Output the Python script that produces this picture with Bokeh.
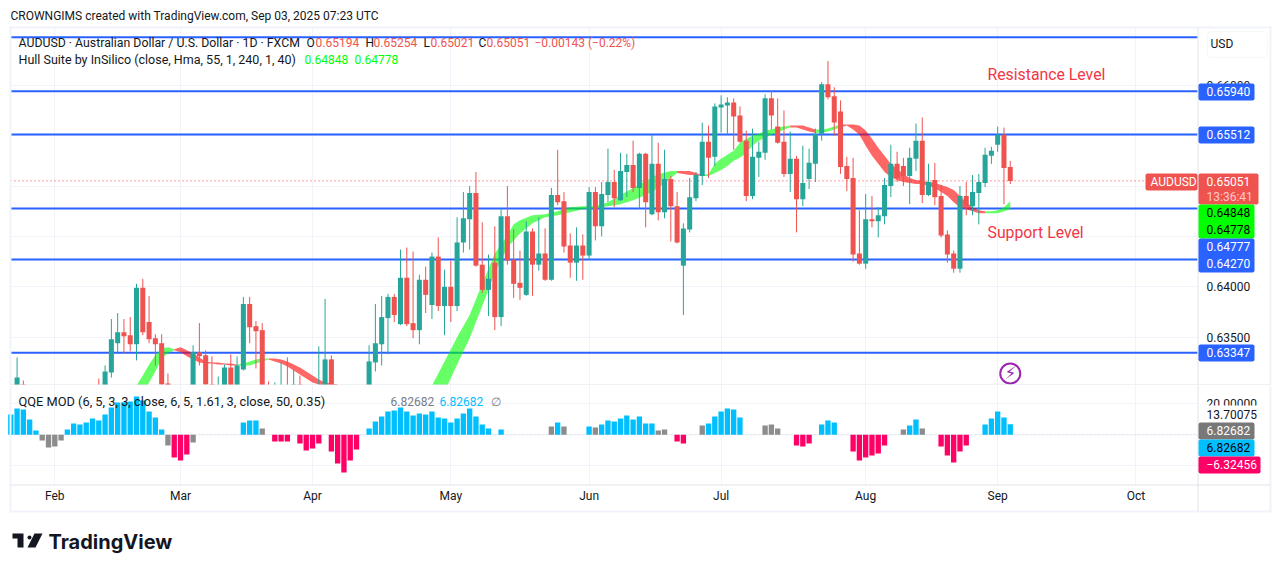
from bokeh.embed import file_html
from bokeh.layouts import column
from bokeh.models import (BoxAnnotation, ColumnDataSource, FixedTicker, Label, LinearAxis,
                          NumeralTickFormatter, PolyAnnotation, Range1d)
from bokeh.plotting import figure
from bokeh.resources import INLINE

# ---- candles (prices in units of 0.0001) ----
bar_index = [-6, -5, 7, 8, 9, 10, 11, 12, 13, 14, 15, 16, 17, 18, 22, 23, 24, 25, 26, 27, 28, 29,
             30, 31, 32, 33, 34, 35, 36, 37, 38, 39, 42, 43, 44, 50, 51, 52, 53, 54, 55, 56, 57, 58, 59,
             60, 61, 62, 63, 64, 65, 66, 67, 68, 69, 70, 71, 72, 73, 74, 75, 76, 77, 78, 79,
             80, 81, 82, 83, 84, 85, 86, 87, 88, 89, 90, 91, 92, 93, 94, 95, 96, 97, 98, 99,
             100, 101, 102, 103, 104, 105, 106, 107, 108, 109, 110, 111, 112, 113, 114, 115, 116, 117, 118, 119,
             120, 121, 122, 123, 124, 125, 126, 127, 128, 129, 130, 131, 132, 133, 134, 135, 136, 137, 138, 139,
             140, 141, 142, 143, 144, 145, 146, 147, 148, 149, 150, 151, 152]
opens = [6290, 6303, 6295, 6290, 6315, 6344, 6355, 6352, 6343, 6399, 6365, 6349, 6344, 6304, 6290, 6335, 6332, 6303, 6290, 6290, 6320, 6295,
         6318, 6383, 6361, 6357, 6298, 6290, 6290, 6298, 6290, 6303, 6285, 6285, 6328, 6285, 6325, 6343, 6369, 6390, 6363, 6409, 6364, 6357, 6407,
         6382, 6430, 6381, 6400, 6381, 6444, 6467, 6493, 6422, 6397, 6424, 6370, 6470, 6427, 6404, 6392, 6455, 6422, 6433, 6407,
         6491, 6485, 6441, 6424, 6441, 6431, 6494, 6460, 6491, 6504, 6486, 6514, 6521, 6498, 6532, 6472, 6522, 6474, 6507, 6480,
         6421, 6457, 6488, 6510, 6544, 6529, 6578, 6580, 6583, 6570, 6545, 6490, 6528, 6533, 6587, 6559, 6544, 6512, 6527, 6487,
         6507, 6522, 6552, 6601, 6589, 6574, 6520, 6508, 6433, 6423, 6467, 6465, 6470, 6500, 6522, 6520, 6510, 6527, 6545, 6491,
         6506, 6490, 6452, 6433, 6418, 6490, 6480, 6493, 6503, 6530, 6541, 6551, 6519]
highs = [6330, 6307, 6309, 6322, 6368, 6374, 6368, 6370, 6403, 6408, 6391, 6353, 6353, 6314, 6342, 6364, 6337, 6331, 6311, 6323, 6333, 6331,
         6390, 6390, 6366, 6364, 6306, 6305, 6325, 6330, 6318, 6312, 6341, 6388, 6332, 6342, 6383, 6391, 6393, 6393, 6437, 6439, 6435, 6412, 6420,
         6434, 6449, 6417, 6426, 6469, 6494, 6500, 6514, 6464, 6432, 6460, 6478, 6500, 6457, 6436, 6465, 6458, 6469, 6458, 6498,
         6536, 6494, 6453, 6459, 6452, 6499, 6499, 6504, 6537, 6516, 6533, 6532, 6545, 6533, 6533, 6551, 6543, 6536, 6510, 6494,
         6463, 6508, 6514, 6563, 6560, 6582, 6590, 6588, 6587, 6579, 6555, 6557, 6544, 6591, 6595, 6587, 6575, 6554, 6530, 6540,
         6537, 6557, 6603, 6624, 6598, 6585, 6529, 6528, 6476, 6492, 6490, 6479, 6508, 6541, 6534, 6528, 6538, 6562, 6568, 6522,
         6523, 6501, 6456, 6436, 6500, 6504, 6511, 6512, 6538, 6539, 6559, 6558, 6525]
lows = [6285, 6280, 6280, 6285, 6310, 6335, 6334, 6336, 6327, 6352, 6344, 6322, 6301, 6290, 6285, 6322, 6302, 6285, 6285, 6285, 6290, 6290,
        6317, 6344, 6319, 6290, 6285, 6285, 6285, 6285, 6285, 6290, 6280, 6280, 6280, 6280, 6316, 6322, 6333, 6365, 6362, 6361, 6349, 6343, 6374,
        6368, 6376, 6352, 6365, 6376, 6434, 6437, 6420, 6394, 6371, 6357, 6361, 6422, 6389, 6387, 6391, 6391, 6416, 6406, 6406,
        6481, 6434, 6409, 6406, 6407, 6427, 6446, 6450, 6484, 6479, 6485, 6489, 6494, 6477, 6459, 6471, 6466, 6468, 6445, 6443,
        6372, 6454, 6485, 6501, 6508, 6520, 6553, 6551, 6536, 6543, 6485, 6487, 6509, 6526, 6556, 6542, 6509, 6494, 6454, 6480,
        6497, 6504, 6545, 6586, 6550, 6512, 6495, 6425, 6422, 6418, 6459, 6449, 6462, 6489, 6504, 6500, 6482, 6515, 6483, 6490,
        6481, 6449, 6424, 6414, 6414, 6471, 6471, 6462, 6499, 6522, 6534, 6482, 6502]
closes = [6310, 6285, 6290, 6316, 6348, 6355, 6351, 6343, 6399, 6355, 6348, 6343, 6303, 6295, 6335, 6331, 6303, 6290, 6298, 6320, 6295, 6322,
          6383, 6360, 6356, 6295, 6290, 6298, 6298, 6292, 6303, 6295, 6298, 6328, 6285, 6326, 6344, 6370, 6390, 6372, 6409, 6363, 6357, 6407, 6392,
          6430, 6381, 6400, 6381, 6444, 6468, 6493, 6421, 6397, 6408, 6370, 6470, 6426, 6403, 6399, 6455, 6422, 6433, 6407, 6491,
          6484, 6440, 6424, 6441, 6431, 6494, 6460, 6492, 6504, 6488, 6515, 6521, 6498, 6532, 6484, 6522, 6474, 6507, 6480, 6444,
          6458, 6489, 6511, 6544, 6528, 6579, 6581, 6583, 6569, 6544, 6490, 6529, 6534, 6587, 6570, 6543, 6512, 6527, 6487, 6503,
          6523, 6552, 6601, 6588, 6563, 6519, 6507, 6432, 6423, 6467, 6465, 6471, 6501, 6522, 6508, 6510, 6528, 6545, 6491, 6504,
          6489, 6451, 6432, 6418, 6490, 6480, 6494, 6504, 6531, 6535, 6551, 6518, 6505]

# ---- Hull ribbon, one table per colour run: bar, upper, lower (units of 0.0001) ----
hull_up_runs = [
    ([12, 13, 14, 15, 16, 17, 18, 19], [6290, 6302, 6312, 6323, 6332, 6339, 6340, 6338],
     [6274, 6284, 6294, 6305, 6316, 6329, 6334, 6337]),
    ([29, 30, 31, 32, 33, 34], [6323, 6324, 6326, 6328, 6329, 6329], [6322, 6322, 6322, 6324, 6326, 6328]),
    ([58, 60, 62, 64, 66, 68, 70, 72, 73, 74, 76, 78, 80, 82, 84, 86, 88, 90, 92, 94, 96, 98, 99],
     [6277, 6302, 6326, 6350, 6372, 6403, 6433, 6451, 6462, 6466, 6471, 6472, 6475, 6479, 6480, 6480, 6484, 6491, 6498, 6505, 6512, 6515, 6515],
     [6241, 6269, 6296, 6323, 6349, 6381, 6414, 6439, 6446, 6453, 6463, 6469, 6471, 6474, 6477, 6478, 6480, 6482, 6486, 6491, 6498, 6508, 6513]),
    ([103, 104, 105, 106, 107, 108, 109, 110, 111, 112, 113, 114, 115, 116, 117],
     [6511, 6512, 6522, 6527, 6531, 6535, 6543, 6547, 6550, 6552, 6555, 6556, 6558, 6559, 6560],
     [6510, 6510, 6513, 6516, 6520, 6525, 6528, 6533, 6540, 6545, 6548, 6551, 6553, 6556, 6558]),
    ([121, 122, 123, 124, 125], [6556, 6556, 6557, 6559, 6561], [6553, 6553, 6554, 6556, 6558]),
    ([148, 149, 150, 151, 152], [6475, 6475, 6476, 6479, 6485], [6473, 6473, 6473, 6475, 6477]),
]
hull_down_runs = [
    ([19, 20, 21, 22, 23, 24, 25, 26, 27, 28, 29], [6338, 6340, 6337, 6334, 6330, 6326, 6325, 6325, 6324, 6324, 6323],
     [6337, 6335, 6331, 6328, 6325, 6324, 6324, 6323, 6323, 6322, 6322]),
    ([34, 35, 36, 37, 38, 39, 40, 41, 42, 43, 44, 45, 46],
     [6329, 6329, 6328, 6326, 6323, 6320, 6316, 6312, 6308, 6305, 6304, 6303, 6295],
     [6328, 6326, 6324, 6321, 6317, 6313, 6309, 6305, 6303, 6302, 6301, 6300, 6292]),
    ([99, 100, 101, 102, 103], [6515, 6515, 6515, 6513, 6511], [6513, 6512, 6511, 6511, 6510]),
    ([117, 118, 119, 120, 121], [6560, 6560, 6560, 6558, 6556], [6558, 6558, 6556, 6554, 6553]),
    ([125, 126, 127, 128, 129, 130, 131, 132, 133, 134, 135, 136, 137, 138, 139, 140, 141, 142, 143, 144, 145, 146, 147, 148],
     [6561, 6561, 6561, 6560, 6555, 6547, 6538, 6530, 6522, 6517, 6512, 6508, 6506, 6505, 6504, 6503, 6501, 6499, 6496, 6490, 6484, 6479, 6476, 6475],
     [6558, 6560, 6556, 6551, 6540, 6530, 6522, 6514, 6509, 6506, 6504, 6503, 6502, 6502, 6500, 6498, 6494, 6490, 6484, 6479, 6477, 6475, 6473, 6473]),
]

# ---- QQE MOD histogram ----
qqe_up_index = [-7, -6, -5, -4, -3, 2, 3, 4, 5, 6, 7, 8, 9, 10, 11, 12, 13, 14, 15, 16, 17, 30, 31, 32,
                50, 51, 52, 53, 54, 55, 56, 57, 58, 59, 60, 61, 62, 63, 64, 65, 66, 67, 68, 69, 71, 80,
                85, 87, 88, 89, 90, 91, 92, 93, 94, 95, 104, 105, 106, 107, 108, 109, 122, 123, 124, 136, 137,
                148, 149, 150, 151, 152]
qqe_up_values = [13.1, 17.0, 16.3, 9.9, 2.8, 3.4, 7.3, 6.7, 8.0, 10.5, 9.2, 13.1, 17.6, 20.9, 21.0, 21.5, 24.7, 22.2, 15.1, 11.2, 3.4, 8.0, 9.2, 9.2,
                 4.1, 8.6, 11.8, 15.1, 15.7, 17.6, 15.1, 12.5, 13.8, 13.1, 15.1, 11.2, 10.5, 8.0, 10.5, 13.8, 17.0, 11.8, 6.7, 4.1, 3.4, 8.0,
                 5.4, 6.7, 9.2, 8.6, 10.5, 12.5, 9.9, 11.8, 7.3, 7.3, 7.3, 11.8, 15.1, 17.0, 16.3, 11.2, 6.7, 9.2, 8.0, 6.0, 9.9,
                 6.7, 10.5, 15.1, 11.2, 6.83]
qqe_down_index = [19, 20, 21, 35, 36, 37, 39, 40, 41, 42, 44, 45, 46, 47, 48, 99, 100, 118, 119, 120,
                  127, 128, 129, 130, 131, 132, 141, 142, 143, 144, 145]
qqe_down_values = [-14.6, -16.6, -12.7, -4.3, -4.3, -4.3, -5.6, -10.1, -8.8, -5.6, -10.8, -18.5, -24.3, -16.6, -9.5, -4.3, -5.6, -6.9, -7.5, -5.6,
                   -10.8, -16.6, -14.6, -13.3, -12.0, -6.9, -7.5, -13.3, -17.8, -10.8, -6.9]
qqe_flat_index = [-2, -1, 0, 1, 18, 22, 33, 79, 81, 86, 96, 97, 103, 113, 114, 115, 135, 138]
qqe_flat_values = [-3.7, -8.2, -7.5, -3.7, -6.9, -4.9, 4.0, 5.4, 5.4, 4.7, 2.8, 3.4, 6.0, 6.0, 6.7, 4.1, 3.4, 4.1]

# ---- levels and ticks ----
level_prices = [0.66476, 0.65940, 0.65512, 0.64777, 0.64270, 0.63347]
last_price = 0.65051
price_ticks = [0.635, 0.640, 0.645, 0.650, 0.655, 0.660]
price_labels = [0.635, 0.640, 0.660]
qqe_ticks = [-20, 0, 20]
month_index = [0, 20, 41, 63, 85, 106, 129, 150, 172]
month_names = ["Feb", "Mar", "Apr", "May", "Jun", "Jul", "Aug", "Sep", "Oct"]

UP, DOWN = "#26a69a", "#ef5350"
BLUE, GRID, EDGE, INK = "#2962ff", "#f0f3fa", "#e0e3eb", "#131722"
FONT = "Roboto"
# the plot frames fill the canvases; the chart panes end at these bars and values
PANE_LEFT, PANE_RIGHT = -7.05, 181.8
PANE_BOTTOM_QQE = -32.06
P1_TOP, P2_TOP = 0, 385

x_range = Range1d(-8.638, 193.72)
p1 = figure(width=1272, height=385, output_backend="svg", toolbar_location=None,
            x_range=x_range, y_range=Range1d(0.63021, 0.66841),
            x_axis_location=None, y_axis_location=None,
            min_border=0, outline_line_color=None)
p2 = figure(width=1272, height=175, output_backend="svg", toolbar_location=None,
            x_range=x_range, y_range=Range1d(-81.1, 31.8),
            x_axis_location=None, y_axis_location=None,
            min_border=0, outline_line_color=None)


def style_axis(ax, standoff):
    ax.axis_line_color = None
    ax.major_tick_line_color = None
    ax.minor_tick_line_color = None
    ax.major_tick_out = 0
    ax.minor_tick_out = 0
    ax.major_label_text_font = FONT
    ax.major_label_text_font_size = "12px"
    ax.major_label_text_color = INK
    ax.major_label_standoff = standoff


for p, ticks, label_ticks in ((p1, price_ticks, price_labels), (p2, qqe_ticks, [20])):
    p.xgrid.ticker = FixedTicker(ticks=month_index)
    p.xgrid.grid_line_color = GRID
    p.ygrid.ticker = FixedTicker(ticks=ticks)
    p.ygrid.grid_line_color = GRID
    ax = LinearAxis(fixed_location=PANE_RIGHT, ticker=FixedTicker(ticks=label_ticks),
                    formatter=NumeralTickFormatter(format="0.00000"))
    style_axis(ax, 9)
    p.add_layout(ax, "right")

xax = LinearAxis(fixed_location=PANE_BOTTOM_QQE, ticker=FixedTicker(ticks=month_index),
                 major_label_overrides=dict(zip(month_index, month_names)))
style_axis(xax, 5)
p2.add_layout(xax, "below")


def box(p, top, x0, y0, x1, y1, fill, line=None, radius=0, level="annotation"):
    p.add_layout(BoxAnnotation(left=x0, right=x1, top=y0 - top, bottom=y1 - top,
                               left_units="canvas", right_units="canvas",
                               top_units="canvas", bottom_units="canvas",
                               fill_color=fill, fill_alpha=1, line_color=line, line_width=1,
                               border_radius=radius, level=level))


def put(p, top, x, y, text, color=INK, size=12, font=FONT, style="normal", align="left"):
    p.add_layout(Label(x=x, y=y - top, x_units="canvas", y_units="canvas", text=text,
                       text_color=color, text_font_size=f"{size}px", text_font=font,
                       text_font_style=style, text_align=align, text_baseline="middle"))


# white masks keep the grid inside the panes
for rect in ((0, 0, 1272, 27), (0, 0, 10, 385), (1197, 0, 1272, 385)):
    box(p1, P1_TOP, *rect, "#ffffff", level="underlay")
for rect in ((0, 385, 10, 560), (1197, 385, 1272, 560), (0, 484, 1272, 560)):
    box(p2, P2_TOP, *rect, "#ffffff", level="underlay")

# levels, then ribbon, then candles
p1.segment(x0=PANE_LEFT, x1=PANE_RIGHT, y0=level_prices, y1=level_prices, line_color=BLUE, line_width=2)
p1.segment(x0=PANE_LEFT, x1=PANE_RIGHT, y0=last_price, y1=last_price, line_color="#f23645",
           line_width=1, line_dash="1 3")

for runs, col in ((hull_up_runs, "#00ff00"), (hull_down_runs, "#ff0000")):
    for xs, hi, lo in runs:
        p1.varea(x=xs, y1=[v / 10000 for v in hi], y2=[v / 10000 for v in lo],
                 fill_color=col, fill_alpha=0.6)

src = ColumnDataSource(dict(
    x=bar_index,
    o=[v / 10000 for v in opens], h=[v / 10000 for v in highs],
    l=[v / 10000 for v in lows], c=[v / 10000 for v in closes],
    color=[UP if c >= o else DOWN for o, c in zip(opens, closes)],
))
p1.segment(x0="x", x1="x", y0="l", y1="h", source=src, line_color="color", line_width=1)
p1.vbar(x="x", width=0.8, bottom="o", top="c", source=src, fill_color="color", line_color=None)

p1.scatter(x=[152], y=[0.6314], size=20, marker="circle", fill_color="white",
           line_color="#9c27b0", line_width=2)

# histogram
p2.segment(x0=PANE_LEFT, x1=PANE_RIGHT, y0=0, y1=0, line_color=EDGE, line_width=1, line_dash="2 2")
for xs, vs, col in ((qqe_up_index, qqe_up_values, "#00bfff"),
                    (qqe_down_index, qqe_down_values, "#ff0066"),
                    (qqe_flat_index, qqe_flat_values, "#8c8c8c")):
    p2.vbar(x=xs, width=0.85, bottom=0, top=vs, fill_color=col, line_color=None)

# ---- frame rules ----
box(p1, P1_TOP, 9, 26, 11, 385, GRID)
box(p1, P1_TOP, 9, 26, 1271, 28, GRID)
box(p1, P1_TOP, 1269, 26, 1271, 385, GRID)
box(p1, P1_TOP, 1197, 27, 1198, 385, EDGE)
box(p1, P1_TOP, 10, 384, 1270, 385, EDGE)
box(p2, P2_TOP, 9, 385, 11, 512, GRID)
box(p2, P2_TOP, 1269, 385, 1271, 512, GRID)
box(p2, P2_TOP, 9, 510, 1271, 512, GRID)
box(p2, P2_TOP, 1197, 385, 1198, 511, EDGE)
box(p2, P2_TOP, 10, 484, 1270, 485, EDGE)

# ---- header ----
put(p1, P1_TOP, 10, 15, "CROWNGIMS created with TradingView.com, Sep 03, 2025 07:23 UTC")
put(p1, P1_TOP, 18, 42, "AUDUSD · Australian Dollar / U.S. Dollar · 1D · FXCM", size=12.3)
for x, t in ((306, "O"), (365, "H"), (423, "L"), (478, "C")):
    put(p1, P1_TOP, x, 42, t)
for x, t in ((315, "0.65194"), (373, "0.65254"), (430, "0.65021"), (486, "0.65051"), (534, "−0.00143 (−0.22%)")):
    put(p1, P1_TOP, x, 42, t, color=DOWN)
put(p1, P1_TOP, 18, 59, "Hull Suite by InSilico (close, Hma, 55, 1, 240, 1, 40)", size=12.5)
put(p1, P1_TOP, 304, 59, "0.64848", color="#00ff00")
put(p1, P1_TOP, 354, 59, "0.64778", color="#00ff00")

# ---- annotations ----
put(p1, P1_TOP, 987, 74, "Resistance Level", color="#f23645", size=15.8)
put(p1, P1_TOP, 987, 232, "Support Level", color="#f23645", size=15.8)
put(p1, P1_TOP, 1010, 372, "⚡", color="#9c27b0", size=17, font="DejaVu Sans", align="center")

# ---- price scale ----
box(p1, P1_TOP, 1207, 31, 1267, 57, "#ffffff", EDGE, 4)
put(p1, P1_TOP, 1210, 43, "USD")
for y0, y1, y, t in ((83, 100, 91, "0.65940"), (126, 143, 134, "0.65512")):
    box(p1, P1_TOP, 1198, y0, 1254, y1, BLUE, None, 2)
    put(p1, P1_TOP, 1206, y, t, color="#ffffff")
box(p1, P1_TOP, 1145, 173, 1197, 190, DOWN, None, 2)
put(p1, P1_TOP, 1150, 181, "AUDUSD", color="#ffffff")
box(p1, P1_TOP, 1198, 173, 1258, 204, DOWN, None, 2)
put(p1, P1_TOP, 1206, 181, "0.65051", color="#ffffff")
put(p1, P1_TOP, 1206, 196, "13:36:41", color="#fcc9c8")
box(p1, P1_TOP, 1198, 204, 1254, 238, "#00ff00", None, 2)
put(p1, P1_TOP, 1206, 212, "0.64848", color="#000000")
put(p1, P1_TOP, 1206, 229, "0.64778", color="#000000")
box(p1, P1_TOP, 1198, 238, 1254, 272, BLUE, None, 2)
put(p1, P1_TOP, 1206, 246, "0.64777", color="#ffffff")
put(p1, P1_TOP, 1206, 263, "0.64270", color="#ffffff")
box(p1, P1_TOP, 1198, 344, 1254, 361, BLUE, None, 2)
put(p1, P1_TOP, 1206, 352, "0.63347", color="#ffffff")

# ---- QQE legend and scale ----
put(p2, P2_TOP, 18, 401, "QQE MOD (6, 5, 3, 3, close, 6, 5, 1.61, 3, close, 50, 0.35)", size=12.8)
put(p2, P2_TOP, 390, 401, "6.82682", color="#787b86")
put(p2, P2_TOP, 439, 401, "6.82682", color="#00bfff")
put(p2, P2_TOP, 490, 401, "∅", color="#787b86")
box(p2, P2_TOP, 1199, 405, 1268, 422, "#ffffff")
put(p2, P2_TOP, 1206, 414, "13.70075")
box(p2, P2_TOP, 1198, 422, 1254, 439, "#787878", None, 2)
put(p2, P2_TOP, 1206, 430, "6.82682", color="#ffffff")
box(p2, P2_TOP, 1198, 439, 1254, 456, "#00bfff", None, 2)
put(p2, P2_TOP, 1206, 447, "6.82682", color="#000000")
box(p2, P2_TOP, 1198, 456, 1260, 473, "#ff0066", None, 2)
put(p2, P2_TOP, 1206, 464, "−6.32456", color="#ffffff")

# ---- logo ----
p2.add_layout(PolyAnnotation(xs=[12, 23, 23, 17, 17, 12], ys=[148, 148, 162, 162, 153, 153],
                             xs_units="canvas", ys_units="canvas", fill_color=INK, fill_alpha=1, line_color=None))
p2.add_layout(PolyAnnotation(xs=[34, 42, 35, 27], ys=[148, 148, 162, 162],
                             xs_units="canvas", ys_units="canvas", fill_color=INK, fill_alpha=1, line_color=None))
box(p2, P2_TOP, 27, 535, 31, 539, INK, None, 2)
put(p2, P2_TOP, 48, 541, "TradingView", size=20, font="Inter", style="bold")

open("out.html", "w").write(file_html(column(p1, p2, spacing=0), INLINE))
